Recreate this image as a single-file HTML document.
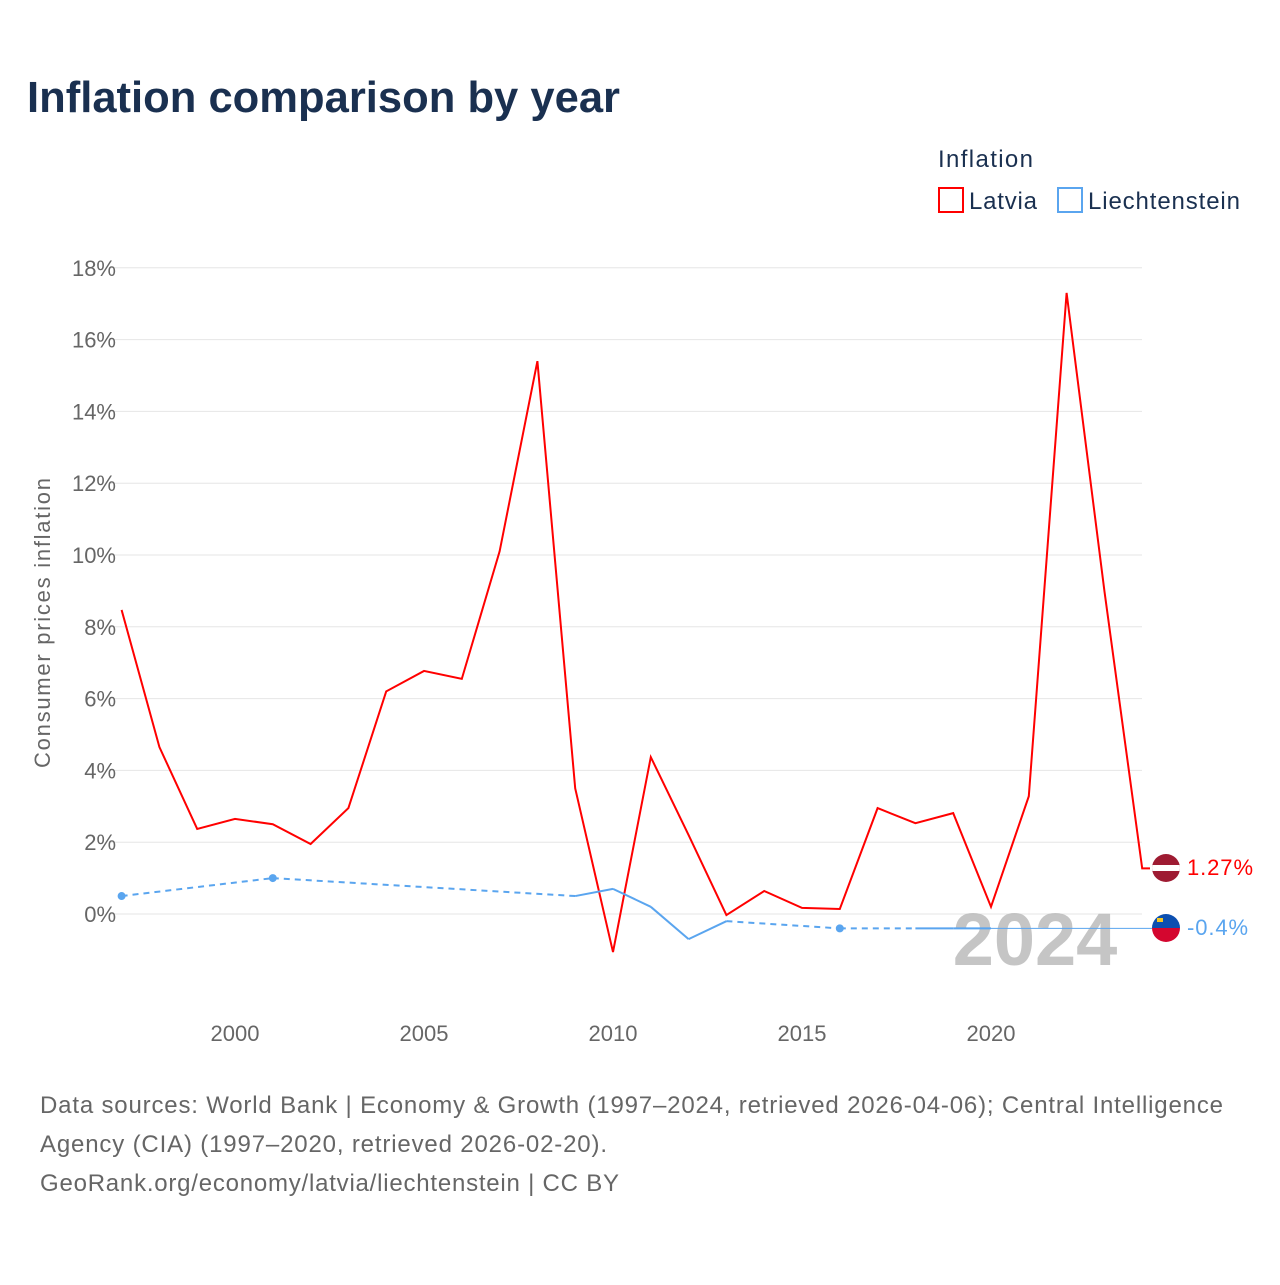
<!DOCTYPE html>
<html><head><meta charset="utf-8"><style>
body{margin:0;background:#fff;font-family:"Liberation Sans",sans-serif}
</style></head><body>
<svg id="c" width="1280" height="1280" xmlns="http://www.w3.org/2000/svg">
<text x="27" y="112" font-size="44" font-weight="bold" fill="#1a3050" textLength="593" lengthAdjust="spacingAndGlyphs">Inflation comparison by year</text>
<text x="938" y="167" font-size="24" fill="#1a3050" textLength="95">Inflation</text>
<g><rect x="939" y="188" width="24" height="24" fill="none" stroke="#f00" stroke-width="2"/><text x="969" y="209" font-size="24" fill="#1a3050" textLength="68">Latvia</text></g>
<g><rect x="1058" y="188" width="24" height="24" fill="none" stroke="#5aa5ef" stroke-width="2"/><text x="1088" y="209" font-size="24" fill="#1a3050" textLength="152">Liechtenstein</text></g>
<text transform="translate(50,623) rotate(-90)" text-anchor="middle" font-size="22" fill="#666" textLength="290">Consumer prices inflation</text>
<g id="grid"></g><g id="yt"></g><g id="xt"></g>
<text x="1035" y="965" text-anchor="middle" font-size="74" font-weight="bold" fill="#bbb" opacity="0.85">2024</text>
<g id="series"></g>
<g><clipPath id="cl"><circle cx="1166" cy="868" r="14"/></clipPath><g clip-path="url(#cl)"><rect x="1150" y="852" width="32" height="32" fill="#9e1b32"/><rect x="1150" y="865" width="32" height="6" fill="#fff"/></g></g>
<g><clipPath id="cli"><circle cx="1166" cy="928" r="14"/></clipPath><g clip-path="url(#cli)"><rect x="1150" y="912" width="32" height="16" fill="#0c4fb0"/><rect x="1150" y="928" width="32" height="16" fill="#d4062f"/><rect x="1157" y="918" width="6" height="4" fill="#f3c623"/></g></g>
<text x="1187" y="875" font-size="22" fill="#f00" textLength="66">1.27%</text>
<text x="1187" y="935" font-size="22" fill="#5aa5ef" textLength="61">-0.4%</text>
<g font-size="24" fill="#666">
<text x="40" y="1113" textLength="1183">Data sources: World Bank | Economy &amp; Growth (1997–2024, retrieved 2026-04-06); Central Intelligence</text>
<text x="40" y="1152" textLength="567">Agency (CIA) (1997–2020, retrieved 2026-02-20).</text>
<text x="40" y="1191" textLength="579">GeoRank.org/economy/latvia/liechtenstein | CC BY</text></g>
</svg>
<script>
const years=[1997,1998,1999,2000,2001,2002,2003,2004,2005,2006,2007,2008,2009,2010,2011,2012,2013,2014,2015,2016,2017,2018,2019,2020,2021,2022,2023,2024];
const latvia=[8.47,4.65,2.37,2.65,2.5,1.95,2.95,6.2,6.77,6.55,10.1,15.4,3.5,-1.06,4.37,2.2,-0.03,0.64,0.17,0.14,2.95,2.53,2.81,0.2,3.28,17.3,9.0,1.27];
const liYears=[1997,2001,2009,2010,2011,2012,2013,2016,2018,2019,2020];
const liValues=[0.5,1.0,0.5,0.7,0.2,-0.7,-0.2,-0.4,-0.4,-0.4,-0.4];
const yTicks=[0,2,4,6,8,10,12,14,16,18];
const xTicks=[2000,2005,2010,2015,2020];
const X=y=>121.6+(y-1997)*37.8, Y=v=>914-v*35.9;
const NS="http://www.w3.org/2000/svg";
function mk(p,t,a){const e=document.createElementNS(NS,t);for(const k in a)e.setAttribute(k,a[k]);document.getElementById(p).appendChild(e);return e;}
yTicks.forEach(v=>{const l=mk('grid','line',{x1:110,x2:1142,y1:Y(v),y2:Y(v),stroke:'#e6e6e6'});


const t=mk('yt','text',{x:116,y:Y(v)+8,'text-anchor':'end','font-size':22,fill:'#666'});t.textContent=v+'%';

});
xTicks.forEach(v=>{const t=mk('xt','text',{x:X(v),y:1041,'text-anchor':'middle','font-size':22,fill:'#666'});t.textContent=v;

});
const lp=mk('series','path',{d:years.map((y,i)=>(i?'L':'M')+X(y)+','+Y(latvia[i])).join('')+'L1150,'+Y(latvia[latvia.length-1]),fill:'none',stroke:'#f00','stroke-width':2});


for(let i=0;i<liYears.length-1;i++){const gap=liYears[i+1]-liYears[i]>1;
const s=mk('series','line',{x1:X(liYears[i]),y1:Y(liValues[i]),x2:X(liYears[i+1]),y2:Y(liValues[i+1]),stroke:'#5aa5ef','stroke-width':2,'stroke-dasharray':gap?'6,5':'none'});

}
const last=liValues[liValues.length-1];
const ex=mk('series','line',{x1:X(liYears[liYears.length-1]),y1:Y(last),x2:1152,y2:Y(last),stroke:'#5aa5ef','stroke-width':1});


liYears.forEach((y,i)=>{const p=liYears[i-1],n=liYears[i+1];
if((p===undefined||y-p>1)&&(n===undefined||n-y>1)){const c=mk('series','circle',{cx:X(y),cy:Y(liValues[i]),r:4,fill:'#5aa5ef'});

}});
</script>
</body></html>
